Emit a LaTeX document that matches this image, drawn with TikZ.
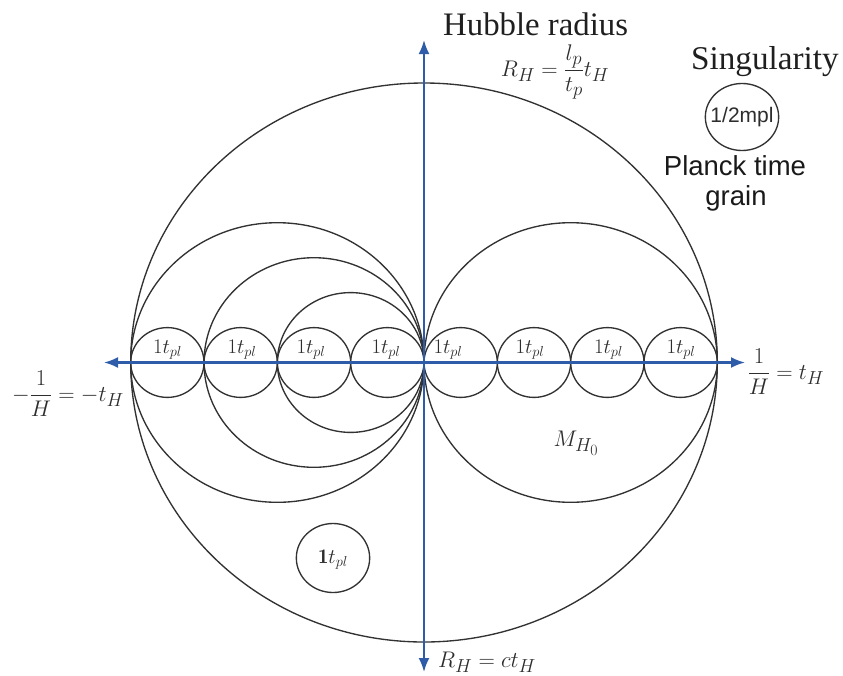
\documentclass[tikz,border=0pt]{standalone}
\usepackage{graphicx}
\usepackage{fontspec}
\newfontfamily\serifA{Liberation Serif}
\newfontfamily\sansA{Liberation Sans}
\usetikzlibrary{arrows.meta}
\definecolor{axisblue}{RGB}{46,92,168}
\definecolor{linegray}{RGB}{50,50,50}
\definecolor{txtgray}{RGB}{45,45,45}
\newcommand{\mlabtext}[1]{\scalebox{0.91}{#1}}
\begin{document}
\begin{tikzpicture}[x=1pt,y=-1pt,
  circ/.style={draw=linegray, line width=1.35pt},
  axisline/.style={draw=axisblue, line width=2.1pt, {Latex[length=14pt,width=11pt]}-{Latex[length=14pt,width=11pt]}},
  mlab/.style={text=txtgray, font=\fontsize{24.88}{28}\selectfont, inner sep=0pt},
  tlab/.style={text=txtgray, font=\fontsize{20.74}{26}\selectfont, inner sep=0pt, anchor=base},
  ttl/.style={text=black!88, inner sep=0pt, anchor=base west}]
\useasboundingbox (0,0) rectangle (843,675);
% circles
\draw[circ] (424,362.5) ellipse [x radius=293.3pt, y radius=279.5pt];
\draw[circ] (570.67,362.5) ellipse [x radius=146.67pt, y radius=139.8pt];
\draw[circ] (277.33,362.5) ellipse [x radius=146.67pt, y radius=139.8pt];
\draw[circ] (314,362.5) ellipse [x radius=110pt, y radius=104.8pt];
\draw[circ] (350.67,362.5) ellipse [x radius=73.33pt, y radius=69.9pt];
\foreach \cx in {167.33,240.67,314,387.33,460.67,534,607.33,680.67}
  \draw[circ] (\cx,362.5) ellipse [x radius=36.67pt, y radius=34.9pt];
\draw[circ] (333,558) ellipse [x radius=36.67pt, y radius=34.5pt];
\draw[circ] (742,117) ellipse [x radius=36.67pt, y radius=33.5pt];
% axes
\coordinate (xl) at (104,362.5);
\coordinate (xr) at (745,362.5);
\coordinate (yt) at (424,40);
\coordinate (yb) at (424,672);
\draw[axisline] (xl) -- (xr);
\draw[axisline] (yb) -- (yt);
% circle labels
\node[tlab] (c1) at (167.5,353) {$1t_{pl}$};
\node[tlab] (c2) at (242,353) {$1t_{pl}$};
\node[tlab] (c3) at (311,353) {$1t_{pl}$};
\node[tlab] (c4) at (386,353) {$1t_{pl}$};
\node[tlab] (c5) at (448,353) {$1t_{pl}$};
\node[tlab] (c6) at (530,353) {$1t_{pl}$};
\node[tlab] (c7) at (608.5,353) {$1t_{pl}$};
\node[tlab] (c8) at (681,353) {$1t_{pl}$};
\node[tlab] (cb) at (333,563) {$\mathbf{1}t_{pl}$};
% math labels
\node[mlab] (rh) at (555,72) {\mlabtext{$\displaystyle R_H=\frac{l_p}{t_p}t_H$}};
\node[mlab] (lh) at (68,394) {\mlabtext{$\displaystyle -\frac{1}{H}=-t_H$}};
\node[mlab] (th) at (786,372) {\mlabtext{$\displaystyle \frac{1}{H}=t_H$}};
\node[mlab,anchor=base west] (ct) at (438,667) {\mlabtext{$R_H=ct_H$}};
\node[mlab] (mh) at (576,443) {\mlabtext{$M_{H_0}$}};
% titles
\node[ttl, font=\serifA\fontsize{32.8}{36}\selectfont] (hub) at (443,35) {Hubble radius};
\node[ttl, font=\serifA\fontsize{33.2}{36}\selectfont] (sing) at (691,69) {Singularity};
\node[text=txtgray, inner sep=0pt, font=\sansA\fontsize{21}{24}\selectfont] (mpl) at (742,117) {1/2mpl};
\node[text=black!90, inner sep=0pt, anchor=base, font=\sansA\fontsize{27.5}{30}\selectfont] (pl1) at (735,175) {Planck time};
\node[text=black!90, inner sep=0pt, anchor=base, font=\sansA\fontsize{27.5}{30}\selectfont] (pl2) at (736,205) {grain};
\end{tikzpicture}
\end{document}
